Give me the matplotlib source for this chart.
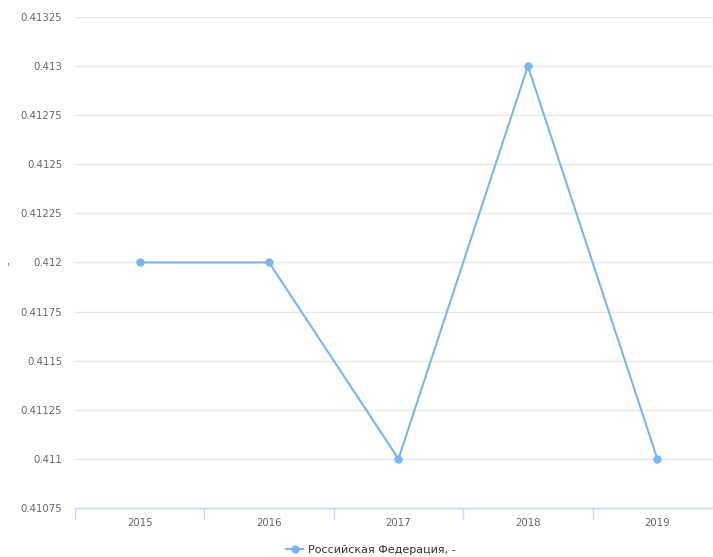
import numpy as np
import matplotlib
matplotlib.use("Agg")
from matplotlib import pyplot as plt
from matplotlib.ticker import FixedLocator, NullFormatter

# данные
years = ['2015', '2016', '2017', '2018', '2019']
values = [0.412, 0.412, 0.411, 0.413, 0.411]
yticks = [0.41075, 0.411, 0.41125, 0.4115, 0.41175, 0.412,
          0.41225, 0.4125, 0.41275, 0.413, 0.41325]
ytick_labels = ['0.41075', '0.411', '0.41125', '0.4115', '0.41175', '0.412',
                '0.41225', '0.4125', '0.41275', '0.413', '0.41325']
series_name = 'Российская Федерация, -'

plt.rcParams['font.family'] = ['DejaVu Sans']

fig = plt.figure(figsize=(7.13, 5.57), dpi=100)
ax = fig.add_axes([0.105, 0.088, 0.895, 0.8815])

x = np.arange(len(years))
ax.plot(x, values, color='#7cb5ec', lw=1.5, marker='o', ms=5,
        label=series_name, zorder=3, clip_on=False)

ax.set_xlim(-0.5, 4.43)
ax.set_ylim(yticks[0], yticks[-1])

ax.set_yticks(yticks)
ax.set_yticklabels(ytick_labels)
ax.yaxis.grid(True, color='#e6e6e6', lw=1)
ax.tick_params(axis='y', length=0, pad=9, labelsize=7.3, labelcolor='#666666')

# категории: подписи по центру, засечки между ними
ax.set_xticks(x)
ax.set_xticklabels(years)
ax.tick_params(axis='x', which='major', length=0, pad=7, labelsize=7.3, labelcolor='#666666')
ax.xaxis.set_minor_locator(FixedLocator(np.arange(-0.5, 4.6, 1)))
ax.xaxis.set_minor_formatter(NullFormatter())
ax.tick_params(axis='x', which='minor', length=8, width=1, color='#ccd6eb')

for s in ['top', 'right', 'left']:
    ax.spines[s].set_visible(False)
ax.spines['bottom'].set_color('#ccd6eb')
ax.spines['bottom'].set_linewidth(1)

fig.text(0.012, 0.527, '-', rotation=90, color='#666666', fontsize=7,
         ha='center', va='center')

fig.legend(loc='center', bbox_to_anchor=(0.52, 0.012), frameon=False,
           fontsize=8, handlelength=1.5, handletextpad=0.4,
           labelcolor='#333333')

fig.savefig('out.png', dpi=100)
